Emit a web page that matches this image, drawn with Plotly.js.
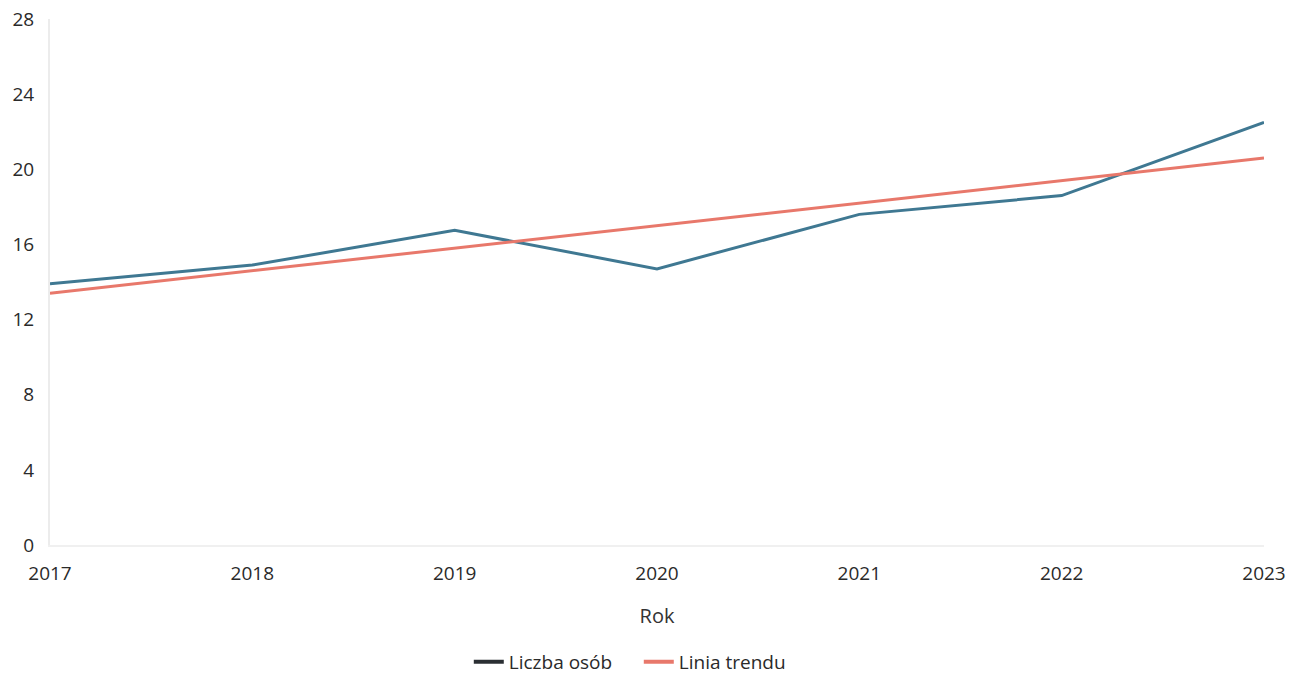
<!DOCTYPE html>
<html>
<head>
<meta charset="utf-8">
<script src="https://cdn.plot.ly/plotly-3.0.1.min.js"></script>
<style>html,body{margin:0;padding:0;background:#fff;}#chart{width:1295px;height:676px;}</style>
</head>
<body>
<div id="chart"></div>
<script>
var years = [2017, 2018, 2019, 2020, 2021, 2022, 2023];
var liczbaOsob = [13.9, 14.9, 16.75, 14.7, 17.6, 18.6, 22.5];
var liniaTrendu = [13.4, 14.6, 15.8, 17.0, 18.2, 19.4, 20.6];
var yTicks = [0, 4, 8, 12, 16, 20, 24, 28];
var seriesNames = ['Liczba osób', 'Linia trendu'];

var blue = '#3f7892';
var salmon = '#e8786b';

var data = [
  {x: years, y: liczbaOsob, type: 'scatter', mode: 'lines', name: seriesNames[0],
   line: {color: blue, width: 3}, showlegend: false},
  {x: years, y: liniaTrendu, type: 'scatter', mode: 'lines', name: seriesNames[1],
   line: {color: salmon, width: 3}, showlegend: false},
  {x: [null], y: [null], type: 'scatter', mode: 'lines', name: seriesNames[0],
   line: {color: '#2b2f33', width: 4}},
  {x: [null], y: [null], type: 'scatter', mode: 'lines', name: seriesNames[1],
   line: {color: salmon, width: 4}}
];

var layout = {
  width: 1295, height: 676,
  margin: {l: 50, r: 31, t: 19, b: 131, autoexpand: false},
  paper_bgcolor: '#fff', plot_bgcolor: '#fff',
  font: {family: 'Open Sans, sans-serif', size: 19, color: '#2a2a2a'},
  xaxis: {
    range: [2017, 2023], tickvals: years, ticktext: years.map(String),
    showgrid: false, zeroline: false, showline: true, linecolor: '#f0f0f0', linewidth: 2,
    ticks: 'outside', ticklen: 10, tickcolor: 'rgba(0,0,0,0)', automargin: false,
    title: {text: 'Rok', font: {size: 20, color: '#333'}, standoff: 24}
  },
  yaxis: {
    range: [0, 28], tickvals: yTicks, automargin: false,
    showgrid: false, zeroline: false, showline: true, linecolor: '#ececec', linewidth: 2,
    ticks: 'outside', ticklen: 10, tickcolor: 'rgba(0,0,0,0)'
  },
  legend: {orientation: 'h', x: 0.485, xanchor: 'center', yref: 'container', y: 0.021, yanchor: 'middle',
    font: {size: 19, color: '#2a2a2a'}, itemwidth: 30, entrywidth: 125},
  showlegend: true
};

Plotly.newPlot('chart', data, layout, {displayModeBar: false, staticPlot: true});
</script>
</body>
</html>
